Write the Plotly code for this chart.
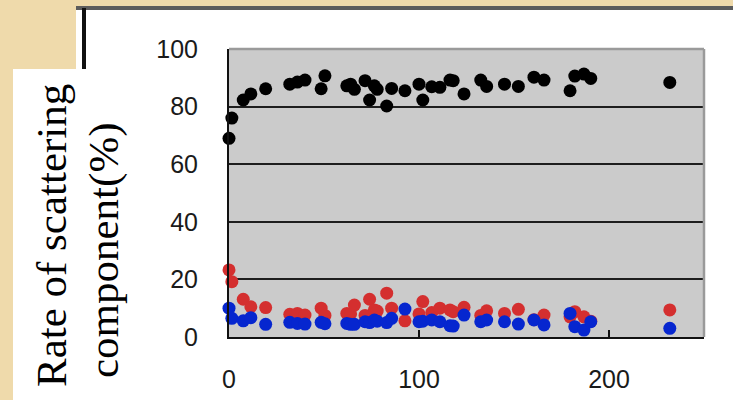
import plotly.graph_objects as go

# Shared x positions
x_vals = [0, 1.5, 7.5, 11.5, 19.3, 32, 36, 40, 48.5, 50.5, 62, 64, 66, 71.6, 74,
          76.5, 78, 83, 85.6, 92.6, 100, 102, 106.7, 111, 116.3, 118, 123.7,
          132.5, 135.6, 145, 152.3, 160.5, 165.8, 179.5, 182, 186.8, 190.4, 232]

black_vals = [69, 76, 82.3, 84.4, 86.2, 87.8, 88.5, 89.2, 86.2, 90.7, 87.2, 87.8, 86,
              89, 82.3, 87.2, 86, 80.2, 86.3, 85.5, 87.8, 82.3, 86.9, 86.7, 89.2, 89,
              84.4, 89.2, 87, 87.8, 87, 90.2, 89.2, 85.5, 90.6, 91.3, 89.8, 88.4]

red_vals = [23.3, 19.2, 13.1, 10.5, 10.2, 7.9, 8.2, 7.6, 10, 7.5, 8.2, 8.0, 11.1,
            7.5, 13.1, 9.4, 9.0, 15.2, 10, 5.6, 8.0, 12.3, 8.5, 10, 9.4, 8.8,
            10.3, 7.5, 9.1, 8.2, 9.6, 6.0, 7.6, 7.0, 8.8, 7.0, 5.5, 9.4]

blue_vals = [10, 6.5, 5.6, 6.7, 4.4, 5.1, 4.7, 4.5, 5.1, 4.6, 4.7, 4.4, 4.4,
             5.3, 5.0, 5.9, 5.5, 5.0, 6.5, 9.7, 5.3, 5.5, 5.9, 5.3, 3.9, 3.8,
             7.6, 5.3, 5.9, 5.3, 4.5, 5.9, 4.2, 8.2, 3.6, 2.4, 5.3, 3]

y_ticks = [0, 20, 40, 60, 80, 100]
x_ticks = [0, 100, 200]
title_lines = ["Rate of scattering", "component(%)"]

BG = "#EFDAAB"

fig = go.Figure()
for vals, col in [(black_vals, "#000000"), (red_vals, "#D42F2F"), (blue_vals, "#0626CF")]:
    fig.add_trace(go.Scatter(x=x_vals, y=vals, mode="markers",
                             marker=dict(size=13, color=col, line=dict(width=0)),
                             showlegend=False, hoverinfo="skip", cliponaxis=False))

L, R, T, B = 229, 29, 49, 63
W, H = 733, 400
pw, ph = W - L - R, H - T - B

def px(xp):
    return (xp - L) / pw

def py(yp):
    return (H - B - yp) / ph

shapes = [
    # white chart panel
    dict(type="rect", xref="paper", yref="paper", x0=px(76), x1=px(740), y0=py(410), y1=py(8),
         fillcolor="white", line=dict(width=0), layer="below"),
    # gray plot area
    dict(type="rect", xref="paper", yref="paper", x0=0, x1=1, y0=0, y1=1,
         fillcolor="#CBCBCB", line=dict(width=0), layer="below"),
    # panel top edge
    dict(type="line", xref="paper", yref="paper", x0=px(76), x1=px(740), y0=py(8), y1=py(8),
         line=dict(color="#5c5c5c", width=4), layer="below"),
    # panel left edge
    dict(type="line", xref="paper", yref="paper", x0=px(84), x1=px(84), y0=py(410), y1=py(8),
         line=dict(color="#111111", width=4), layer="below"),
    # title box
    dict(type="rect", xref="paper", yref="paper", x0=px(13), x1=px(135), y0=py(410), y1=py(69),
         fillcolor="white", line=dict(width=0), layer="below"),
    # plot top / right border (gray)
    dict(type="line", xref="paper", yref="paper", x0=0, x1=1, y0=1, y1=1,
         line=dict(color="#9a9a9a", width=2.5), layer="above"),
    dict(type="line", xref="paper", yref="paper", x0=1, x1=1, y0=0, y1=1,
         line=dict(color="#9a9a9a", width=2.5), layer="above"),
]

annotations = [
    dict(text=title_lines[0], xref="paper", yref="paper", x=px(51), y=py(236),
         textangle=-90, showarrow=False, xanchor="center", yanchor="middle",
         font=dict(family="Liberation Serif", size=43, color="#000")),
    dict(text=title_lines[1], xref="paper", yref="paper", x=px(104), y=py(250),
         textangle=-90, showarrow=False, xanchor="center", yanchor="middle",
         font=dict(family="Liberation Serif", size=43, color="#000")),
]

fig.update_layout(
    width=W, height=H,
    margin=dict(l=L, r=R, t=T, b=B, pad=0, autoexpand=False),
    paper_bgcolor=BG,
    plot_bgcolor="rgba(0,0,0,0)",
    shapes=shapes,
    annotations=annotations,
    xaxis=dict(range=[0, 250], tickvals=x_ticks, ticks="inside", ticklen=7, tickwidth=2,
               tickcolor="#111", showgrid=False, zeroline=False, showline=True,
               linecolor="#111", linewidth=2, ticklabelstandoff=19, automargin=False,
               tickfont=dict(family="Liberation Sans", size=25, color="#1a1a1a")),
    yaxis=dict(range=[0, 100], tickvals=y_ticks, ticks="", showgrid=True, gridcolor="#1e1e1e",
               gridwidth=2, zeroline=False, showline=True, linecolor="#111", linewidth=2,
               ticklabelstandoff=24, automargin=False,
               tickfont=dict(family="Liberation Sans", size=25, color="#1a1a1a")),
)

fig.write_html(
    "out.html",
    config={"displayModeBar": False},
    post_script="document.body.style.margin='0';document.body.style.padding='0';"
                "document.body.style.background='" + BG + "';"
                "document.body.style.overflow='hidden';",
)
